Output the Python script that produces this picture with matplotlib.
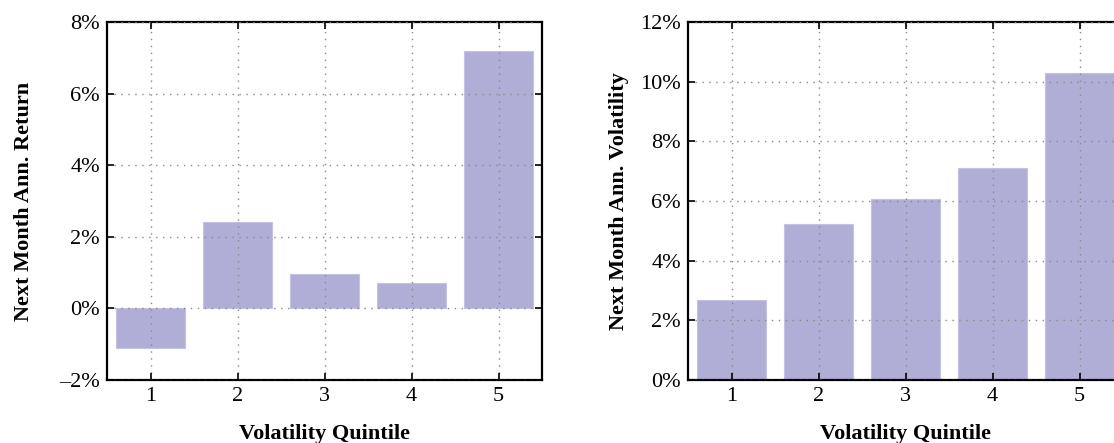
import matplotlib
matplotlib.use('Agg')
import matplotlib.pyplot as plt
from matplotlib.ticker import FuncFormatter

plt.rcParams['font.family'] = 'serif'
plt.rcParams['font.serif'] = ['Liberation Serif', 'DejaVu Serif']
plt.rcParams['font.size'] = 16

quintiles = [1, 2, 3, 4, 5]
next_return = [-1.1, 2.4, 0.95, 0.7, 7.2]
next_vol = [2.68, 5.23, 6.07, 7.1, 10.3]

BAR = '#b0aed6'


def pct(v, _):
    s = f'{v:.0f}%'
    return s.replace('-', '\u2013')


def style(ax, ylim, yticks, ylabel, label_x):
    ax.set_xlim(0.5, 5.5)
    ax.set_ylim(*ylim)
    ax.set_xticks(quintiles)
    ax.set_yticks(yticks)
    ax.yaxis.set_major_formatter(FuncFormatter(pct))
    ax.tick_params(direction='in', top=True, right=True, length=5, width=1.2,
                   labelsize=16, pad=5)
    ax.grid(True, linestyle=(0, (1, 4)), color='#888888', linewidth=1.0)
    ax.set_axisbelow(False)
    for sp in ax.spines.values():
        sp.set_linewidth(1.6)
    ax.set_xlabel('Volatility Quintile', fontweight='bold', fontsize=16, labelpad=13)
    ax.set_ylabel(ylabel, fontweight='bold', fontsize=16)
    ax.yaxis.set_label_coords(label_x, 0.5)


fig = plt.figure(figsize=(11.14, 4.43), dpi=100)
ax1 = fig.add_axes([107 / 1114, 1 - 380 / 443, 435 / 1114, 358 / 443])
ax2 = fig.add_axes([688 / 1114, 1 - 380 / 443, 435 / 1114, 358 / 443])

ax1.bar(quintiles, next_return, width=0.8, color=BAR, edgecolor='#c4c2e2', linewidth=0.8, zorder=1)
style(ax1, (-2, 8), [-2, 0, 2, 4, 6, 8], 'Next Month Ann. Return', -0.167)

ax2.bar(quintiles, next_vol, width=0.8, color=BAR, edgecolor='#c4c2e2', linewidth=0.8, zorder=1)
style(ax2, (0, 12), [0, 2, 4, 6, 8, 10, 12], 'Next Month Ann. Volatility', -0.135)

fig.savefig('out.png', dpi=100)
